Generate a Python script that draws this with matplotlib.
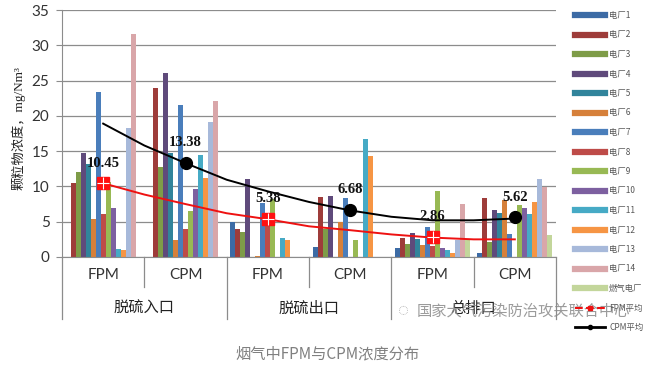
import numpy as np
import matplotlib
matplotlib.use("Agg")
import matplotlib.pyplot as plt
from matplotlib.lines import Line2D

plt.rcParams['font.family'] = ['Lato', 'DejaVu Sans', 'Noto Sans CJK SC']

# ---- data ----
sub_labels = ['FPM', 'CPM', 'FPM', 'CPM', 'FPM', 'CPM']
group_labels = ['脱硫入口', '脱硫出口', '总排口']

plant_names = ['电厂1', '电厂2', '电厂3', '电厂4', '电厂5', '电厂6', '电厂7',
               '电厂8', '电厂9', '电厂10', '电厂11', '电厂12', '电厂13',
               '电厂14', '燃气电厂']
plant1 = [0, 0, 4.9, 1.4, 1.3, 0.5]
plant2 = [10.5, 24.0, 4.0, 8.5, 2.7, 8.4]
plant3 = [12.0, 12.7, 3.55, 4.0, 1.9, 2.1]
plant4 = [14.75, 26.1, 11.1, 8.65, 3.4, 6.6]
plant5 = [13.2, 14.75, 0, 0, 2.5, 6.25]
plant6 = [5.4, 2.4, 0.1, 4.9, 1.65, 8.05]
plant7 = [23.4, 21.5, 7.65, 8.3, 4.25, 3.3]
plant8 = [6.15, 4.0, 4.8, 0, 1.5, 0]
plant9 = [10.6, 6.5, 8.15, 2.35, 9.3, 7.3]
plant10 = [7.0, 9.6, 0, 0, 1.3, 7.0]
plant11 = [1.1, 14.5, 2.75, 16.65, 1.05, 6.15]
plant12 = [0.95, 11.2, 2.35, 14.3, 0.6, 7.8]
plant13 = [18.35, 19.15, 0, 0, 2.35, 11.1]
plant14 = [31.6, 22.1, 0, 0, 7.45, 9.9]
gas_plant = [0, 0, 0, 0, 2.35, 3.1]

fpm_avg_x = [0, 2, 4]
fpm_avg = [10.45, 5.38, 2.86]
cpm_avg_x = [1, 3, 5]
cpm_avg = [13.38, 6.68, 5.62]

# trend curves (read at half-category steps)
trend_x = [0, 0.5, 1, 1.5, 2, 2.5, 3, 3.5, 4, 4.5, 5]
cpm_trend = [18.9, 15.8, 13.3, 10.95, 9.3, 7.8, 6.6, 5.7, 5.2, 5.2, 5.45]
fpm_trend = [10.45, 8.85, 7.5, 6.2, 5.35, 4.35, 3.8, 3.2, 2.75, 2.5, 2.5]

colors = ['#3c6ba5', '#9e3c3a', '#7e9c48', '#5f4a7b', '#31849b', '#d6803a',
          '#4a7ebb', '#be4b48', '#98b954', '#7d60a0', '#46aac5', '#f69544',
          '#a7b9da', '#d9a6a9', '#c3d69b']

series = [plant1, plant2, plant3, plant4, plant5, plant6, plant7, plant8,
          plant9, plant10, plant11, plant12, plant13, plant14, gas_plant]

fig = plt.figure(figsize=(6.54, 3.71), dpi=100)
W, H = 654, 371
ax = fig.add_axes([62 / W, 1 - 257 / H, (556 - 62) / W, 247 / H])

x = np.arange(len(sub_labels))
bw = 0.0605
n = len(series)
for i, vals in enumerate(series):
    off = (i - (n - 1) / 2) * bw
    ax.bar(x + off, vals, width=bw, color=colors[i], linewidth=0, zorder=2)

# trend lines
ax.plot(trend_x, cpm_trend, color='black', lw=1.4, zorder=3)
ax.plot(trend_x, fpm_trend, color='#ee1111', lw=1.4, zorder=3)

# markers
ax.plot(fpm_avg_x, fpm_avg, linestyle='none', marker='s', markersize=8,
        color='#ff1010', zorder=4)
ax.plot(fpm_avg_x, fpm_avg, linestyle='none', marker='+', markersize=8,
        markeredgecolor='white', markeredgewidth=0.8, zorder=5)
ax.plot(cpm_avg_x, cpm_avg, linestyle='none', marker='o', markersize=8.5,
        color='black', zorder=4)

for xs, ys in [(fpm_avg_x, fpm_avg), (cpm_avg_x, cpm_avg)]:
    for xi, yi in zip(xs, ys):
        ax.annotate(f'{yi:.2f}', (xi, yi), xytext=(0, 14.5),
                    textcoords='offset points', ha='center', va='center',
                    fontsize=10.5, fontweight='bold',
                    family='Liberation Serif', color='#111111', zorder=6)

ax.set_xlim(-0.5, 5.5)
ax.set_ylim(0, 35)
ax.set_yticks(range(0, 36, 5))
ax.yaxis.grid(True, color='#8c8c8c', lw=0.9, zorder=0)
ax.set_axisbelow(True)
for s in ['top', 'right']:
    ax.spines[s].set_visible(False)
ax.spines['left'].set_color('#8c8c8c')
ax.spines['bottom'].set_color('#8c8c8c')
ax.tick_params(axis='y', length=4, color='#8c8c8c', labelsize=11,
               labelcolor='#333333', pad=5)
ax.set_xticks([])

# category labels and separators below the axis
tr = ax.get_xaxis_transform()
for i, lab in enumerate(sub_labels):
    ax.text(i, -18 / 247, lab, transform=tr, ha='center', va='center',
            fontsize=11, color='#333333')
for g, lab in enumerate(group_labels):
    ax.text(2 * g + 0.5, -51 / 247, lab, transform=tr, ha='center',
            va='center', fontsize=11, color='#222222',
            family=['Noto Sans CJK SC'])
for b in [0.5, 2.5, 4.5]:
    ax.plot([b, b], [0, -30 / 247], transform=tr, color='#8c8c8c', lw=0.9,
            clip_on=False)
for b in [-0.5, 1.5, 3.5, 5.5]:
    ax.plot([b, b], [0, -62 / 247], transform=tr, color='#8c8c8c', lw=0.9,
            clip_on=False)

fig.text(18 / W, 1 - 128 / H, '颗粒物浓度，mg/Nm³', rotation=90,
         ha='center', va='center', fontsize=9.5, color='#222222',
         family=['Liberation Serif', 'Noto Sans CJK SC'])

# legend
handles = [Line2D([], [], color=c, lw=4.5) for c in colors]
handles.append(Line2D([], [], color='#ee1111', lw=1.5, marker='s',
                      markersize=3, linestyle='--'))
handles.append(Line2D([], [], color='black', lw=2, marker='o', markersize=3))
labels = plant_names + ['FPM平均', 'CPM平均']
leg = fig.legend(handles, labels, loc='upper left',
                 bbox_to_anchor=(575 / W, 1 - 11 / H), frameon=False,
                 handlelength=3.6, handletextpad=0.5,
                 labelspacing=1.26, borderpad=0, borderaxespad=0,
                 prop={'family': ['Noto Sans CJK SC'], 'size': 6})
for t in leg.get_texts():
    t.set_color('#555555')

# watermark and caption
fig.text(403 / W, 1 - 311 / H, '◌', fontsize=12, color='#9a9a9a',
         ha='center', va='center', alpha=0.8)
fig.text(417 / W, 1 - 311 / H, '国家大气污染防治攻关联合中心', fontsize=11,
         color='#8a8a8a', ha='left', va='center', alpha=0.85,
         family=['Noto Sans CJK SC'])
fig.text(327 / W, 1 - 354 / H, '烟气中FPM与CPM浓度分布', fontsize=11,
         color='#808080', ha='center', va='center',
         family=['Noto Sans CJK SC'])

fig.savefig('out.png', dpi=100)
